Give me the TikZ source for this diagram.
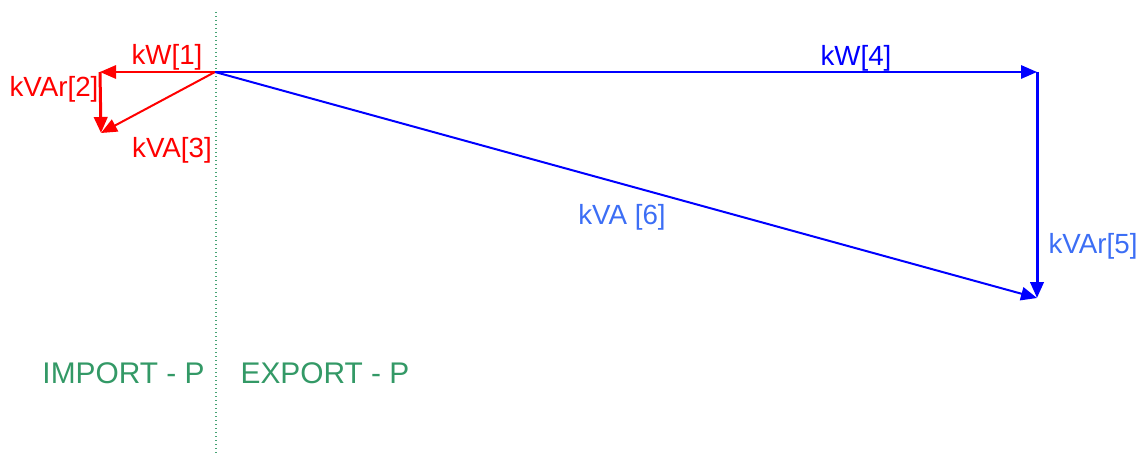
\documentclass[tikz,border=0pt]{standalone}
\usepackage{fontspec}
\setmainfont{Liberation Sans}
\usetikzlibrary{arrows.meta}

\definecolor{pwrred}{RGB}{255,0,0}
\definecolor{pwrblue}{RGB}{0,0,255}
\definecolor{vablue}{RGB}{60,110,245}
\definecolor{axisgreen}{RGB}{51,153,102}

\begin{document}
\begin{tikzpicture}[
    x=0.75pt, y=-0.75pt,
    vec/.style={-{Triangle[length=12pt,width=10pt]}, line width=1.5pt},
    redvec/.style={vec, pwrred},
    bluevec/.style={vec, pwrblue},
    lbl/.style={font=\fontsize{20.8}{24}\selectfont, anchor=base, inner sep=0pt},
    side/.style={font=\fontsize{22.4}{26}\selectfont, anchor=base, inner sep=0pt, text=axisgreen}
]
\useasboundingbox (0,0) rectangle (1142,456);

% Axis
\coordinate (top) at (216,12);
\coordinate (bottom) at (216,456);
\draw[axisgreen!90!white, dotted, line width=1pt] (top) -- (bottom);

% Points
\coordinate (O) at (215,72);
\coordinate (imp) at (100,72);
\coordinate (impq) at (101,133);
\coordinate (exp) at (1037,72);
\coordinate (expq) at (1037,298);

% Import triangle
\draw[redvec] (O) -- (imp);
\draw[redvec, line width=2.25pt] (imp) -- (impq);
\draw[redvec] (O) -- (impq);

% Export triangle
\draw[bluevec] (O) -- (exp);
\draw[bluevec, line width=2.25pt] (exp) -- (expq);
\draw[bluevec] (O) -- (expq);

% Labels
\node[lbl, pwrred] (kw1) at (167,65) {kW[1]};
\node[lbl, pwrred] (kvar2) at (54,97) {kVAr[2]};
\node[lbl, pwrred] (kva3) at (172,158) {kVA[3]};
\node[lbl, pwrblue] (kw4) at (856,66) {kW[4]};
\node[lbl, vablue] (kvar5) at (1093,253) {kVAr[5]};
\node[lbl, vablue] (kva6) at (622,224) {kVA [6]};

% Sides
\node[side] (import) at (123.5,383) {IMPORT - P};
\node[side] (export) at (325,383) {EXPORT - P};

\end{tikzpicture}
\end{document}
